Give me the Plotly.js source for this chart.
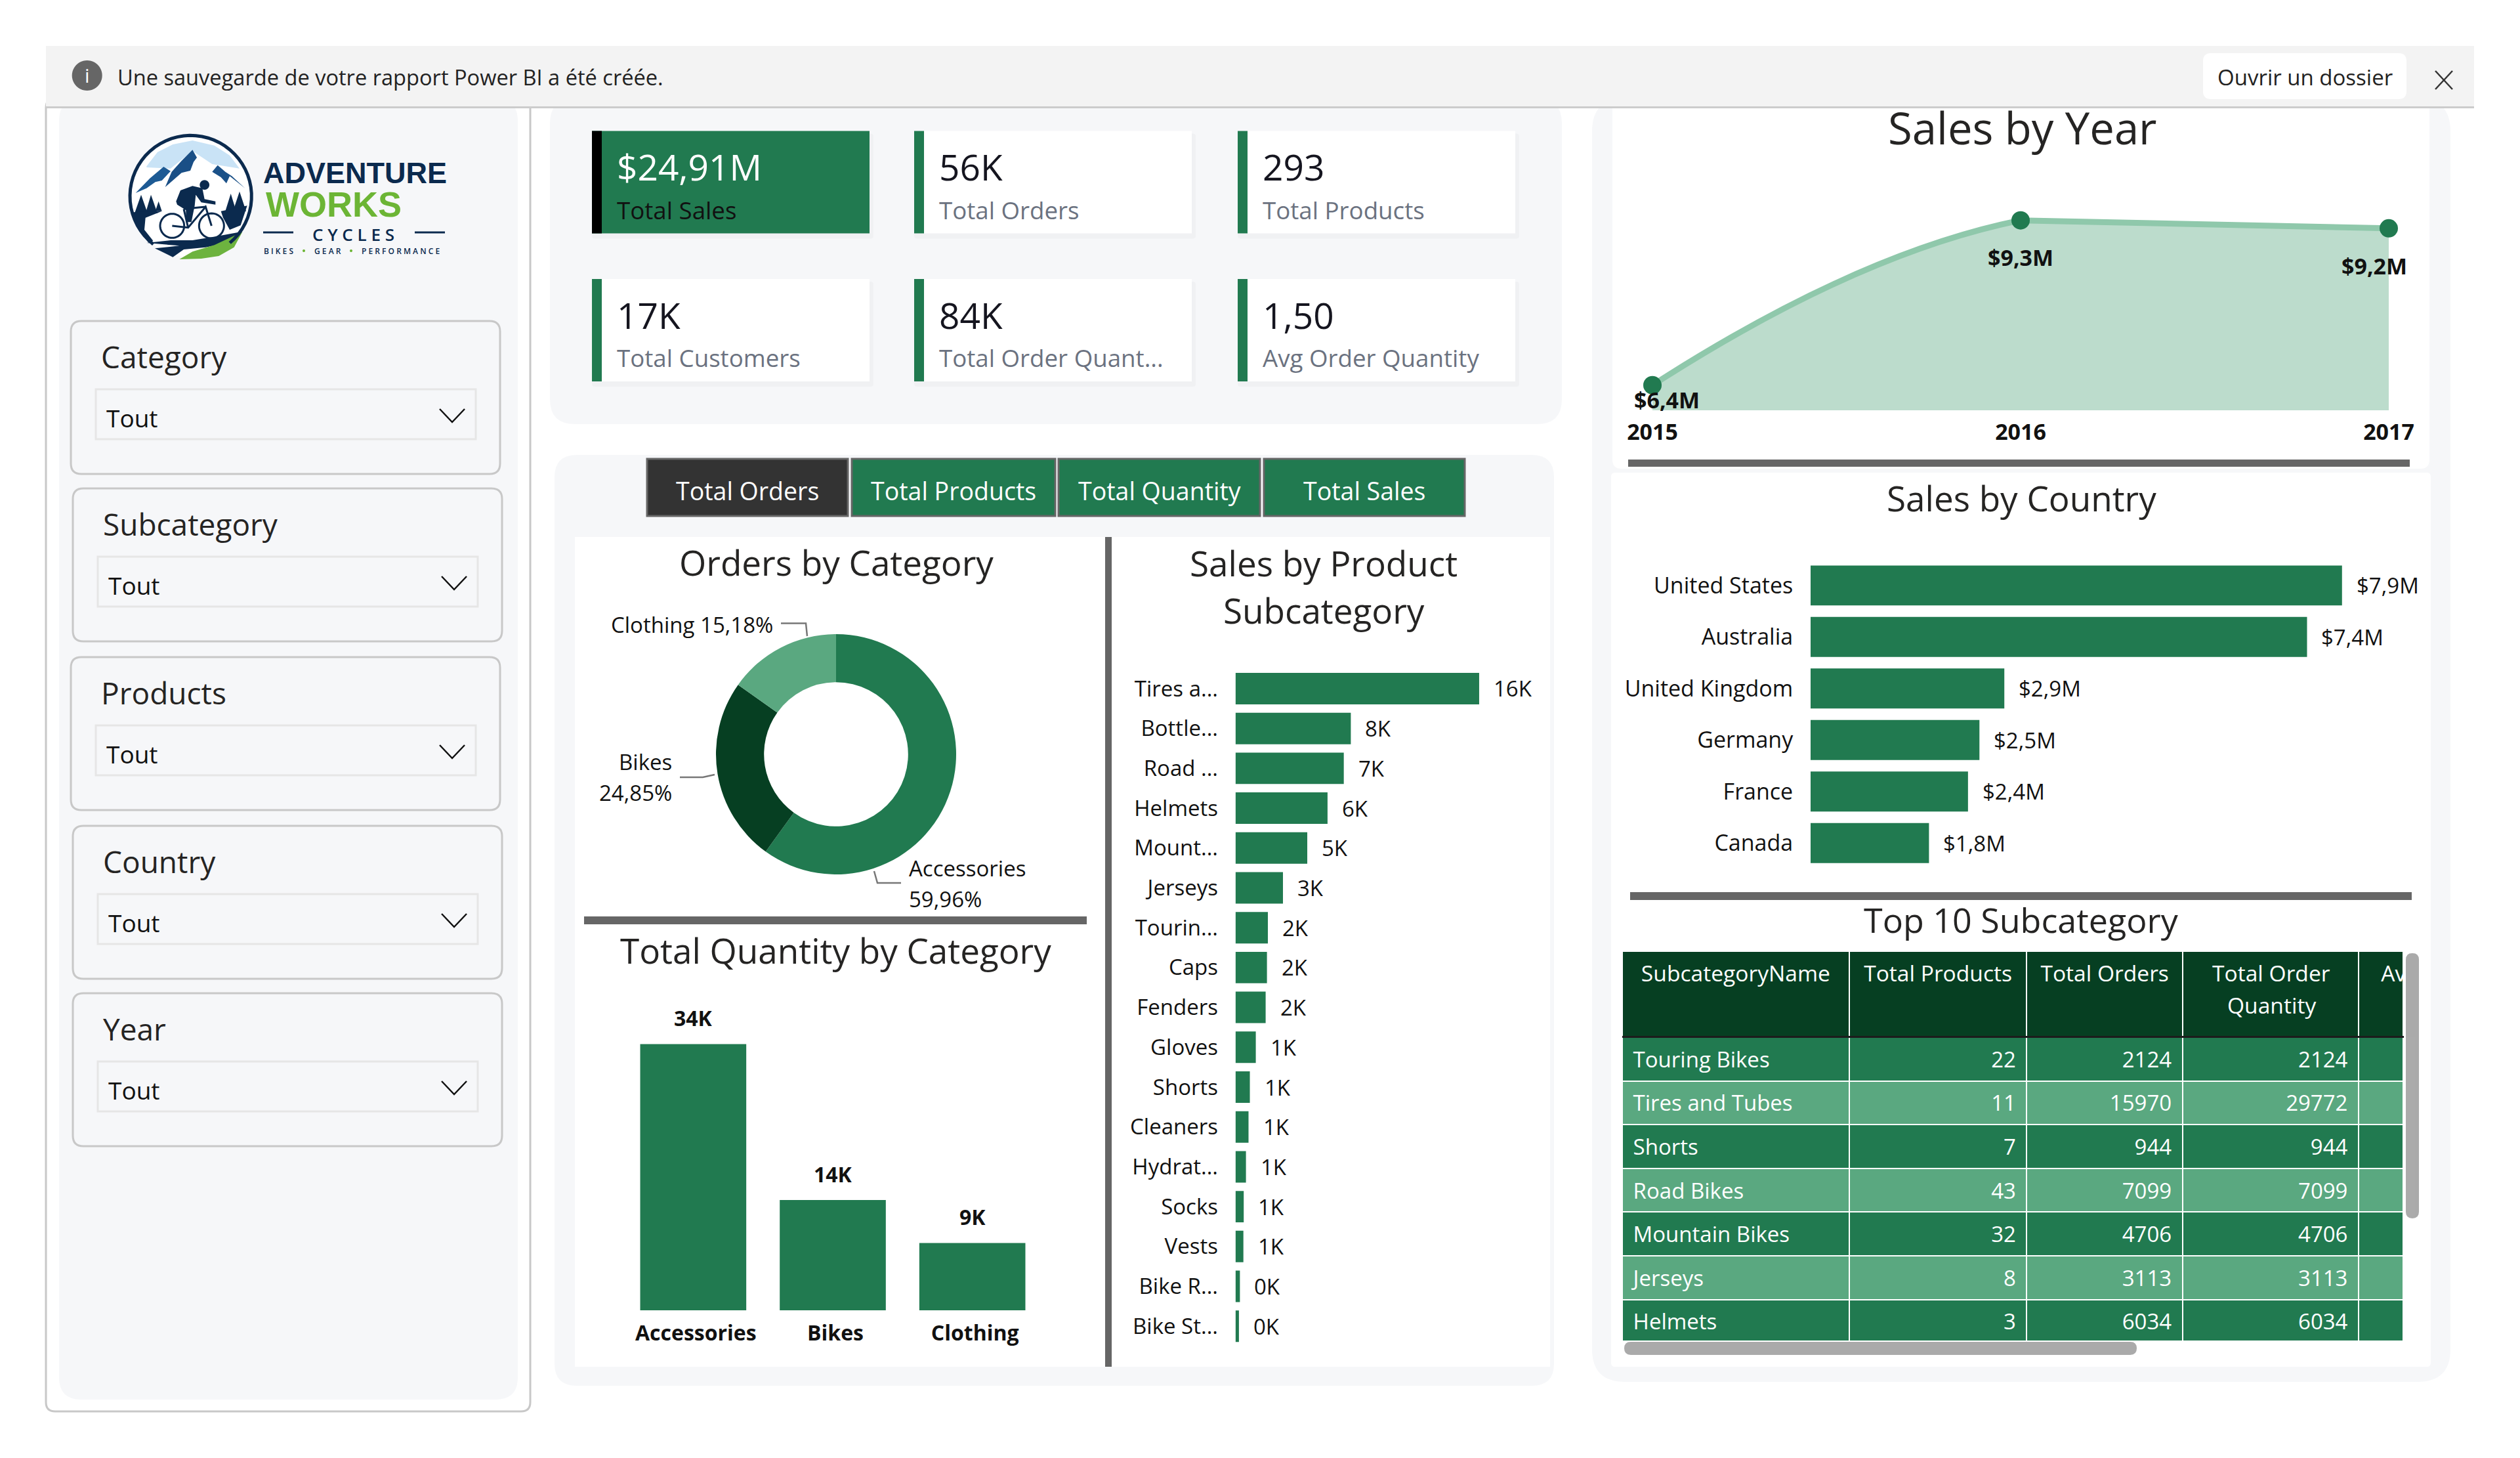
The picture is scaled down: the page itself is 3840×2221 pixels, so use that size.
<!DOCTYPE html>
<html><head><meta charset="utf-8">
<script src="https://cdn.plot.ly/plotly-3.0.1.min.js"></script>
<style>html,body{margin:0;padding:0;background:#fff}#c{width:3840px;height:2221px}</style></head>
<body><div id="c"></div>
<script>
// ---- chart values ----
const kpiValues = ["$24,91M","56K","293","17K","84K","1,50"];
const kpiLabels = ["Total Sales","Total Orders","Total Products","Total Customers","Total Order Quant...","Avg Order Quantity"];
const slicerNames = ["Category","Subcategory","Products","Country","Year"];
const buttonNames = ["Total Orders","Total Products","Total Quantity","Total Sales"];
const orderCategories = ["Accessories","Bikes","Clothing"];
const orderShares = [59.96,24.85,15.18];
const quantityValues = [34000,14090,8600];
const quantityLabels = ["34K","14K","9K"];
const subcatNames = ["Tires a...","Bottle...","Road ...","Helmets","Mount...","Jerseys","Tourin...","Caps","Fenders","Gloves","Shorts","Cleaners","Hydrat...","Socks","Vests","Bike R...","Bike St..."];
const subcatValues = [15970,7560,7099,6034,4706,3113,2124,2064,1978,1333,944,856,688,542,520,292,228];
const subcatLabels = ["16K","8K","7K","6K","5K","3K","2K","2K","2K","1K","1K","1K","1K","1K","1K","0K","0K"];
const years = [2015,2016,2017];
const yearSales = [6.4,9.29,9.15];
const yearLabels = ["$6,4M","$9,3M","$9,2M"];
const countries = ["United States","Australia","United Kingdom","Germany","France","Canada"];
const countrySales = [7.9,7.38,2.88,2.51,2.34,1.76];
const countryLabels = ["$7,9M","$7,4M","$2,9M","$2,5M","$2,4M","$1,8M"];
const tableHeader = ["SubcategoryName","Total Products","Total Orders","","\u00a0\u00a0\u00a0Av"];
const tableHeaderWrapped = ["Total Order","Quantity"];
const tableNames = ["Touring Bikes","Tires and Tubes","Shorts","Road Bikes","Mountain Bikes","Jerseys","Helmets"];
const tableProducts = [22,11,7,43,32,8,3];
const tableOrders = [2124,15970,944,7099,4706,3113,6034];
const tableQuantity = [2124,29772,944,7099,4706,3113,6034];
const tableBlank = ["","","","","","",""];

// ---- page geometry helpers (reference pixels -> paper) ----
const W=3840,H=2221,F='"Open Sans",sans-serif';
const GREEN='#217a50',DARK='#063f22',LIGHT='#5aa880',PANEL='#f6f7f9',GRAY='#666666';
const px=x=>(x/W).toFixed(5), py=y=>(1-y/H).toFixed(5);
const dx=(a,b)=>[a/W,b/W], dy=(top,bot)=>[1-bot/H,1-top/H];
const shapes=[],anns=[];
function rr(x0,y0,x1,y1,r,fill,line,lw,layer){
  const c=[r,r,r,r];
  const p=`M${px(x0+c[0])},${py(y0)}L${px(x1-c[1])},${py(y0)}Q${px(x1)},${py(y0)} ${px(x1)},${py(y0+c[1])}L${px(x1)},${py(y1-c[2])}Q${px(x1)},${py(y1)} ${px(x1-c[2])},${py(y1)}L${px(x0+c[3])},${py(y1)}Q${px(x0)},${py(y1)} ${px(x0)},${py(y1-c[3])}L${px(x0)},${py(y0+c[0])}Q${px(x0)},${py(y0)} ${px(x0+c[0])},${py(y0)}Z`;
  shapes.push({type:'path',xref:'paper',yref:'paper',layer:layer||'below',path:p,fillcolor:fill||'rgba(0,0,0,0)',line:{color:line||'rgba(0,0,0,0)',width:lw||0}});
}
function poly(pts,fill,line,lw,open){
  const p=pts.map((q,i)=>(i?'L':'M')+px(q[0])+','+py(q[1])).join('')+(open?'':'Z');
  shapes.push({type:'path',xref:'paper',yref:'paper',layer:'below',path:p,fillcolor:fill||'rgba(0,0,0,0)',line:{color:line||'rgba(0,0,0,0)',width:lw||0}});
}
function T(text,x,y,size,color,a,weight,fam){
  anns.push({xref:'paper',yref:'paper',x:x/W,y:1-y/H,text,showarrow:false,xanchor:a||'left',yanchor:'middle',
    font:{family:fam||F,size,color:color||'#111',weight:weight||400},borderpad:0,borderwidth:0});
}
function arcPts(cx,cy,r,a0,a1){const o=[];for(let i=0;i<=48;i++){const a=(a0+(a1-a0)*i/48)*Math.PI/180;o.push([cx+r*Math.cos(a),cy+r*Math.sin(a)]);}return o;}

// ---- background panels ----
rr(70,150,808,2150,14,'#ffffff','#c8c8c8',3);      // left pane border
rr(90,150,789,2132,34,PANEL);                      // left panel
rr(838,150,2380,646,38,PANEL);                     // KPI panel
rr(845,693,2368,2111,34,PANEL);                    // middle panel
rr(876,818,2362,2082,0,'#ffffff');
rr(2426,150,3734,2105,50,PANEL);                   // right panel
rr(2457,150,3702,714,14,'#ffffff');
rr(2455,720,3704,2082,6,'#ffffff');

// banner
rr(70,70,3770,163,0,'#f3f3f3');
rr(70,162,3770,165,0,'#cccccc');
rr(3357,81,3667,151,12,'#ffffff');
poly(arcPts(132.7,115,23,0,360),GRAY);
T('i',132.7,115,30,'#ffffff','center');
T('Une sauvegarde de votre rapport Power BI a été créée.',179,118,32.6,'#222');
T('Ouvrir un dossier',3512,118,33,'#222','center');
poly([[3711,108],[3737,136]],null,'#333',2.5,true);
poly([[3737,108],[3711,136]],null,'#333',2.5,true);

// ---- logo (decorative drawing, zoom-crop coordinates) ----
const L=(x,y)=>[180+x/3,190+y/3], LL=a=>a.map(q=>L(q[0],q[1]));
const NAVY='#0b2a4e';
poly(LL(arcPts(332,327,280,0,360)),'#ffffff');
poly(LL([[130,190],[180,125],[250,90],[340,72],[440,95],[510,140],[555,200],[430,180],[340,120],[240,200],[130,195]]),'#c9e3f6');
poly(LL([[340,115],[290,165],[245,215],[215,285],[290,220],[330,210],[345,170],[360,150]]),'#1a4f86');
poly(LL([[80,312],[145,245],[208,192],[240,212],[200,255],[170,262],[130,290]]),'#1d5a94');
poly(LL([[455,185],[430,215],[470,240],[495,268],[510,235],[580,290],[520,235],[490,215]]),'#1b5188');
poly(LL([[105,320],[75,405],[135,405]]),NAVY);
poly(LL([[150,320],[125,405],[180,405]]),NAVY);
poly(LL([[185,350],[170,395],[200,395]]),NAVY);
poly(LL([[70,400],[200,395],[125,425],[120,480],[160,530],[140,540],[100,490],[70,420]]),NAVY);
poly(LL([[515,315],[490,395],[540,395]]),NAVY);
poly(LL([[555,305],[525,395],[585,395]]),NAVY);
poly(LL([[470,395],[590,370],[560,460],[510,480],[480,425]]),NAVY);
poly(LL([[130,540],[240,528],[340,528],[450,510],[568,488],[500,540],[400,560],[300,570],[250,605],[168,565],[280,553]]),NAVY);
poly(LL([[280,615],[340,580],[440,550],[568,490],[530,560],[460,600],[380,612]]),'#6db33f');
poly(LL(arcPts(332,327,278,128,410)),null,NAVY,5,true);
poly(LL(arcPts(247,462,55,0,360)),null,NAVY,3,true);
poly(LL(arcPts(427,462,57,0,360)),null,NAVY,3,true);
poly(LL([[247,462],[320,470],[400,375],[427,462]]),null,NAVY,3,true);
poly(LL([[300,385],[320,470]]),null,NAVY,3,true);
poly(LL([[300,385],[400,375]]),null,NAVY,3,true);
poly(LL([[265,350],[285,300],[340,280],[385,290],[395,340],[445,350],[445,365],[380,355],[355,320],[350,370],[335,445],[310,445],[310,390],[270,365]]),NAVY);
poly(LL(arcPts(395,275,22,0,360)),NAVY);
T('ADVENTURE',541,263,45,'#0b2a4e','center',700,'"Liberation Sans",sans-serif');
T('WORKS',509,311,54,'#6cb535','center',700,'"Liberation Sans",sans-serif');
T('C Y C L E S',538,357,26,'#0b2a4e','center',600);
poly([[401,354],[447,354]],null,'#0b2a4e',3,true);
poly([[632,354],[678,354]],null,'#0b2a4e',3,true);
T('B I K E S',424,382,12,'#0b2a4e','center',600);
T('G E A R',499,382,12,'#0b2a4e','center',600);
T('P E R F O R M A N C E',610,382,12,'#0b2a4e','center',600);
poly(arcPts(463,382,2,0,360),'#6cb535');
poly(arcPts(535,382,2,0,360),'#6cb535');

// ---- slicers ----
const slicerPos=[[108,489],[111,744],[108,1001],[111,1258],[111,1513]];
slicerNames.forEach((n,i)=>{
  const [x,y]=slicerPos[i];
  rr(x,y,x+654,y+233,16,PANEL,'#c8c8c8',3);
  rr(x+38,y+104,x+617,y+180,0,PANEL,'#e6e6e6',3);
  T(n,x+46,y+54,46,'#252423');
  T('Tout',x+54,y+147,37,'#111');
  poly([[x+562,y+134],[x+581,y+154],[x+600,y+134]],null,'#111',2.5,true);
});

// ---- KPI cards ----
const cardX=[902,1393,1886],cardY=[199.5,425];
kpiValues.forEach((v,i)=>{
  const x=cardX[i%3],y=cardY[Math.floor(i/3)];
  rr(x,y+4,x+423+6,y+156+8,4,'rgba(0,0,0,0.025)');
  rr(x,y,x+423,y+156,0,i?'#ffffff':GREEN);
  rr(x,y,x+15,y+156,0,i?GREEN:'#000000');
  T(v,x+38,y+54,55,i?'#15151f':'#ffffff');
  T(kpiLabels[i],x+38,y+120,36.7,i?'#6b7280':'#111111');
});

// ---- toggle buttons ----
const btnX=[[986,1292],[1298,1608],[1613,1920],[1926,2232]];
buttonNames.forEach((n,i)=>{
  rr(btnX[i][0],699,btnX[i][1],786,0,i?GREEN:'#333333',GRAY,3);
  T(n,(btnX[i][0]+btnX[i][1])/2,747,37.5,'#ffffff','center');
});

// ---- dividers ----
rr(1684,818,1694,2082,0,GRAY);
rr(890,1396,1656,1408,0,GRAY);
rr(2481,700,3672,711,0,GRAY);
rr(2484,1359,3675,1371,0,GRAY);

// ---- titles ----
T('Orders by Category',1274,856,53,'#252423','center',500);
T('Sales by Product',2017,857,53,'#252423','center',500);
T('Subcategory',2017,929,53,'#252423','center',500);
T('Total Quantity by Category',1273,1447,53,'#252423','center',500);
T('Sales by Year',3082,194,67,'#252423','center',500);
T('Sales by Country',3080,758,53,'#252423','center',500);
T('Top 10 Subcategory',3080,1400,52,'#252423','center',500);

// ---- donut labels and leaders ----
T('Clothing 15,18%',1178,951,33,'#111','right');
T('Bikes',1024,1161,33,'#111','right');
T('24,85%',1024,1207,33,'#111','right');
T('Accessories',1385,1323,33,'#111','left');
T('59,96%',1385,1369,33,'#111','left');
poly([[1190,949.5],[1228,949.5],[1230,969]],null,'#777',2.5,true);
poly([[1036,1184],[1071,1184],[1089,1180]],null,'#777',2.5,true);
poly([[1332,1327],[1337,1345],[1373,1345]],null,'#777',2.5,true);

// ---- value labels tied to the data ----
const valueAnn=(xref,yref,x,y,text,size,opts)=>anns.push(Object.assign({xref,yref,x,y,text,showarrow:false,
  font:{family:F,size,color:'#111',weight:(opts&&opts.weight)||400}},opts&&opts.extra));
quantityValues.forEach((v,i)=>valueAnn('x','y',orderCategories[i],v,quantityLabels[i],32,{weight:700,extra:{yanchor:'bottom',yshift:16,xanchor:'center'}}));
subcatValues.forEach((v,i)=>valueAnn('x2','y2',v,subcatNames[i],subcatLabels[i],33,{extra:{xanchor:'left',xshift:20,yanchor:'middle'}}));
countrySales.forEach((v,i)=>valueAnn('x4','y4',v,countries[i],countryLabels[i],33,{extra:{xanchor:'left',xshift:20,yanchor:'middle'}}));
yearSales.forEach((v,i)=>valueAnn('x3','y3',years[i],v,yearLabels[i],34,{weight:700,extra:{
  xanchor:'center',yanchor:'middle',xshift:[22,0,-22][i],yshift:[-22,-56,-57][i]}}));

// ---- table extras ----
poly([[2487,1553],[2510,1553],[2498.5,1564]],'#ffffff');
rr(3666,1452,3686,1856,10,'#aaaaaa');
shapes.push({type:'rect',xref:'paper',yref:'paper',layer:'above',x0:2472/W,x1:3663/W,y0:1-1581/H,y1:1-1578/H,fillcolor:'#1c1c1c',line:{width:0}});
shapes.push({type:'rect',xref:'paper',yref:'paper',layer:'above',x0:2465/W,x1:3670/W,y0:1-2070/H,y1:1-2042/H,fillcolor:'#ffffff',line:{width:0}});
rr(2475,2044,3256,2064,10,'#aaaaaa',null,0,'above');
T(tableHeaderWrapped[0],3461,1482,33.6,'#ffffff','center');
T(tableHeaderWrapped[1],3461,1531,33.6,'#ffffff','center');

// ---- traces ----
const noAxis={showgrid:false,zeroline:false,showline:false};
const colW=[346,271,237.5,268.5,68];
const nb='\u00a0';
const traces=[
 {type:'pie',labels:orderCategories,values:orderShares,hole:0.6,sort:false,direction:'clockwise',rotation:0,
  textinfo:'none',showlegend:false,hoverinfo:'label+percent',
  marker:{colors:[GREEN,DARK,LIGHT],line:{width:0}},domain:{x:dx(1091,1457),y:dy(966,1332)}},
 {type:'bar',x:orderCategories,y:quantityValues,xaxis:'x',yaxis:'y',marker:{color:GREEN},width:0.76,showlegend:false},
 {type:'bar',orientation:'h',x:subcatValues,y:subcatNames,xaxis:'x2',yaxis:'y2',marker:{color:GREEN},width:0.79,showlegend:false},
 // right half: straight run between 2016 and 2017
 {type:'scatter',mode:'lines',x:years.slice(1),y:yearSales.slice(1),xaxis:'x3',yaxis:'y3',fill:'tozeroy',fillcolor:'#bcdccc',
  line:{color:'#8fc8ab',width:9},showlegend:false},
 {type:'scatter',mode:'markers',x:years.slice(2),y:yearSales.slice(2),xaxis:'x3',yaxis:'y3',cliponaxis:false,
  marker:{color:GREEN,size:28},showlegend:false},
 // left half of the area: spline over all years, clipped at 2016 by its axis
 {type:'scatter',mode:'lines',x:years,y:yearSales,xaxis:'x5',yaxis:'y3',fill:'tozeroy',fillcolor:'#bcdccc',
  line:{color:'#8fc8ab',width:9,shape:'spline',smoothing:1.3},showlegend:false},
 {type:'scatter',mode:'markers',x:years.slice(0,2),y:yearSales.slice(0,2),xaxis:'x5',yaxis:'y3',cliponaxis:false,
  marker:{color:GREEN,size:28},showlegend:false},
 {type:'bar',orientation:'h',x:countrySales,y:countries,xaxis:'x4',yaxis:'y4',marker:{color:GREEN},width:0.776,showlegend:false},
 // table fills
 {type:'table',domain:{x:dx(2472,3663),y:dy(1449,2047)},columnwidth:colW,
  header:{values:['','','','',''],height:131,fill:{color:DARK},line:{color:'#ffffff',width:2},font:{family:F,size:30,color:'#ffffff'}},
  cells:{values:[tableBlank,tableBlank,tableBlank,tableBlank,tableBlank],height:66.6,
    fill:{color:[0,1,2,3,4].map(()=>tableNames.map((_,i)=>i%2?LIGHT:GREEN))},
    line:{color:'#ffffff',width:2},font:{family:F,size:32,color:'#ffffff'}}},
 // table text, seated lower in its rows
 {type:'table',domain:{x:dx(2472,3663),y:dy(1462,2060)},columnwidth:colW,
  header:{values:tableHeader,align:['center','center','center','center','left'],height:131,
    fill:{color:'rgba(0,0,0,0)'},line:{color:'rgba(0,0,0,0)',width:0},font:{family:F,size:33.6,color:'#ffffff'}},
  cells:{values:[tableNames.map(s=>nb+s),tableProducts.map(s=>s+nb),tableOrders.map(s=>s+nb),tableQuantity.map(s=>s+nb),tableBlank],
    align:['left','right','right','right','right'],height:66.6,
    fill:{color:'rgba(0,0,0,0)'},line:{color:'rgba(0,0,0,0)',width:0},font:{family:F,size:33,color:'#ffffff'}}}
];
const layout={width:W,height:H,margin:{l:0,r:0,t:0,b:0},paper_bgcolor:'#ffffff',plot_bgcolor:'rgba(0,0,0,0)',
  showlegend:false,shapes,annotations:anns,font:{family:F},bargap:0.22,
  xaxis:Object.assign({},noAxis,{domain:dx(950,1588),anchor:'y',ticks:'outside',ticklen:7,tickcolor:'rgba(0,0,0,0)',ticklabelshift:4,
    tickfont:{family:F,size:32,color:'#111',weight:700},fixedrange:true}),
  yaxis:Object.assign({},noAxis,{domain:dy(1540,1996),anchor:'x',range:[0,38233],visible:false}),
  xaxis2:Object.assign({},noAxis,{domain:dx(1882.6,2340),anchor:'y2',range:[0,19670],visible:false}),
  yaxis2:Object.assign({},noAxis,{domain:dy(1018.6,2050.6),anchor:'x2',autorange:'reversed',ticks:'outside',ticklen:19,tickcolor:'rgba(0,0,0,0)',
    tickfont:{family:F,size:33,color:'#111'}}),
  xaxis3:Object.assign({},noAxis,{domain:dx(2518,3640),anchor:'y3',range:[2015,2017],tickvals:years,tickformat:'d',ticks:'outside',ticklen:3,tickcolor:'rgba(0,0,0,0)',
    tickfont:{family:F,size:34,color:'#111',weight:700}}),
  yaxis3:Object.assign({},noAxis,{domain:dy(300,625),anchor:'x3',range:[5.96,9.70],visible:false}),
  xaxis4:Object.assign({},noAxis,{domain:dx(2759,3700),anchor:'y4',range:[0,9.18],visible:false}),
  yaxis4:Object.assign({},noAxis,{domain:dy(852.6,1323.5),anchor:'x4',autorange:'reversed',ticks:'outside',ticklen:19,tickcolor:'rgba(0,0,0,0)',
    tickfont:{family:F,size:34,color:'#111'}}),
  xaxis5:Object.assign({},noAxis,{domain:dx(2518,3079),anchor:'y3',range:[2015,2016],visible:false})
};
Plotly.newPlot('c',traces,layout,{displayModeBar:false,responsive:false});
</script></body></html>
